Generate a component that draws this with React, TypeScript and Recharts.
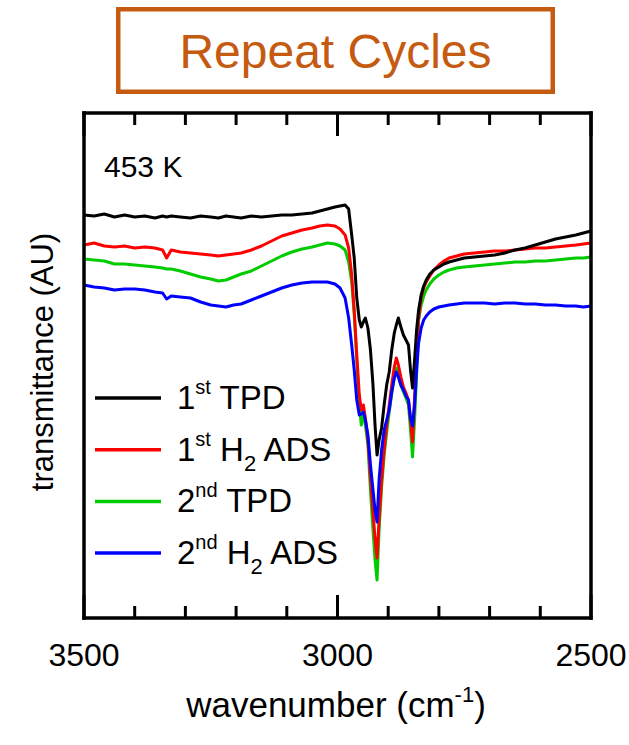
import React from "react";
import { LineChart, Line, XAxis, YAxis, Legend } from "recharts";

// wavenumber grid (cm-1), denser through the C-H stretch region
const wavenumbers = [
  3500, 3480, 3460, 3440, 3420, 3400, 3380, 3360, 3345, 3337,
  3328, 3310, 3290, 3270, 3250, 3235, 3220, 3205, 3190, 3170,
  3150, 3130, 3110, 3090, 3070, 3050, 3035, 3020, 3005, 2995,
  2985, 2978, 2972, 2967, 2962, 2957, 2953, 2949, 2945, 2940,
  2935, 2930, 2926, 2922, 2918, 2913, 2908, 2903, 2898, 2893,
  2888, 2884, 2880, 2875, 2870, 2865, 2860, 2856, 2852, 2848,
  2844, 2840, 2835, 2830, 2825, 2818, 2810, 2800, 2790, 2780,
  2765, 2750, 2730, 2710, 2690, 2670, 2650, 2630, 2610, 2590,
  2570, 2550, 2530, 2515, 2500,
];

// transmittance (AU), offset spectra
const firstTpd = [
  4.03, 4.02, 4.04, 4.01, 4.03, 4.01, 4.02, 4.0, 4.02, 4.01,
  4.02, 4.01, 4.0, 4.02, 4.01, 4.0, 4.02, 4.01, 4.0, 4.02,
  4.01, 4.02, 4.03, 4.03, 4.04, 4.05, 4.07, 4.09, 4.11, 4.12,
  4.13, 4.09, 3.83, 3.6, 3.2, 2.98, 2.91, 2.96, 3.0, 2.9,
  2.68, 2.33, 1.93, 1.63, 1.78, 1.9, 2.13, 2.33, 2.46, 2.68,
  2.85, 2.93, 3.0, 2.91, 2.83, 2.78, 2.73, 2.48, 2.3, 2.58,
  2.88, 3.08, 3.23, 3.32, 3.38, 3.44, 3.48, 3.51, 3.54, 3.56,
  3.58, 3.6, 3.61, 3.62, 3.63, 3.65, 3.68, 3.7, 3.73, 3.76,
  3.79, 3.81, 3.83, 3.85, 3.87,
];

const firstH2Ads = [
  3.73, 3.75, 3.72, 3.71, 3.72, 3.7, 3.71, 3.7, 3.68, 3.6,
  3.68, 3.66, 3.65, 3.64, 3.63, 3.62, 3.63, 3.64, 3.65, 3.68,
  3.72, 3.77, 3.82, 3.85, 3.88, 3.9, 3.92, 3.93, 3.92, 3.89,
  3.83, 3.7, 3.43, 3.08, 2.63, 2.23, 2.08, 2.13, 2.0, 1.78,
  1.4, 1.06, 0.8, 0.6, 0.98, 1.38, 1.68, 1.93, 2.13, 2.33,
  2.51, 2.6, 2.53, 2.41, 2.31, 2.25, 2.18, 1.98, 1.76, 2.2,
  2.7, 3.0, 3.21, 3.3, 3.36, 3.42, 3.48, 3.53, 3.57, 3.6,
  3.62, 3.64, 3.65, 3.66, 3.67, 3.67, 3.68, 3.69, 3.7, 3.7,
  3.71, 3.72, 3.73, 3.74, 3.75,
];

const secondTpd = [
  3.59, 3.58, 3.57, 3.54, 3.54, 3.53, 3.52, 3.51, 3.5, 3.49,
  3.49, 3.47, 3.44, 3.41, 3.39, 3.37, 3.38, 3.41, 3.44, 3.47,
  3.52, 3.57, 3.62, 3.66, 3.69, 3.71, 3.73, 3.75, 3.74, 3.72,
  3.68, 3.56, 3.36, 3.03, 2.58, 2.13, 1.93, 2.05, 1.93, 1.73,
  1.28, 0.88, 0.58, 0.38, 0.88, 1.31, 1.63, 1.86, 2.06, 2.25,
  2.41, 2.5, 2.43, 2.33, 2.26, 2.2, 2.13, 1.88, 1.61, 1.98,
  2.43, 2.98, 3.13, 3.22, 3.28, 3.34, 3.39, 3.43, 3.46, 3.48,
  3.5, 3.51, 3.52, 3.53, 3.54, 3.55, 3.56, 3.56, 3.57, 3.57,
  3.58, 3.59, 3.6, 3.6, 3.61,
];

const secondH2Ads = [
  3.33, 3.31, 3.3, 3.28, 3.29, 3.29, 3.28, 3.26, 3.25, 3.19,
  3.22, 3.21, 3.2, 3.16, 3.13, 3.12, 3.11, 3.13, 3.14, 3.18,
  3.22, 3.26, 3.3, 3.33, 3.35, 3.36, 3.36, 3.36, 3.34, 3.3,
  3.2, 3.0, 2.73, 2.48, 2.18, 2.03, 2.04, 2.06, 1.98, 1.83,
  1.53, 1.28, 1.08, 0.96, 1.38, 1.68, 1.88, 1.98, 2.08, 2.26,
  2.4, 2.46, 2.41, 2.33, 2.28, 2.22, 2.18, 2.0, 1.92, 2.13,
  2.48, 2.75, 2.9, 2.98, 3.02, 3.06, 3.09, 3.11, 3.12, 3.13,
  3.14, 3.15, 3.15, 3.15, 3.14, 3.15, 3.15, 3.14, 3.14, 3.13,
  3.13, 3.12, 3.12, 3.11, 3.12,
];

const xTicks = [3500, 3400, 3300, 3200, 3100, 3000, 2900, 2800, 2700, 2600, 2500];
const xTickLabels = [3500, 3000, 2500];

const seriesKeys = ["tpd1", "ads1", "tpd2", "ads2"];
const seriesColors = ["#000000", "#ff0000", "#00cc00", "#0000ff"];
const legendOrdinals = ["1", "1", "2", "2"];
const legendSuffixes = ["st", "st", "nd", "nd"];
const legendNames = ["TPD", "H2 ADS", "TPD", "H2 ADS"];

const data = wavenumbers.map((wn, i) => ({
  wn,
  tpd1: firstTpd[i],
  ads1: firstH2Ads[i],
  tpd2: secondTpd[i],
  ads2: secondH2Ads[i],
}));

const FONT = "'Liberation Sans', Arial, sans-serif";
const ORANGE = "#c55a11";

function BottomTick({ x, y, payload }: any) {
  const major = xTickLabels.includes(payload.value);
  return (
    <g>
      <line x1={x} x2={x} y1={y} y2={y - (major ? 23 : 12)} stroke="#000" strokeWidth={3} />
      {major && (
        <text x={x} y={y + 48} textAnchor="middle" fontSize={32} fontFamily={FONT} fill="#000">
          {payload.value}
        </text>
      )}
    </g>
  );
}

function TopTick({ x, y, payload }: any) {
  const major = xTickLabels.includes(payload.value);
  return <line x1={x} x2={x} y1={y} y2={y + (major ? 23 : 12)} stroke="#000" strokeWidth={3} />;
}

function SpectraLegend({ payload }: any) {
  const rowGap = 51.7;
  const rows = seriesKeys
    .map((key) => (payload || []).find((p: any) => p.dataKey === key))
    .filter(Boolean);
  return (
    <svg width={260} height={200} style={{ display: "block", overflow: "visible" }}>
      {rows.map((entry: any, i: number) => {
        const idx = seriesKeys.indexOf(entry.dataKey);
        const lineY = 18 + i * rowGap;
        const base = lineY + 11;
        const hasH2 = legendNames[idx].startsWith("H2");
        return (
          <g key={entry.dataKey}>
            <line x1={0} x2={66} y1={lineY} y2={lineY} stroke={entry.color} strokeWidth={3.5} />
            <text x={82} y={base} fontSize={33} fontFamily={FONT} fill="#000" style={{ whiteSpace: "pre" }}>
              {legendOrdinals[idx]}
              <tspan fontSize={20} dy={-15}>{legendSuffixes[idx]}</tspan>
              {hasH2 ? (
                <>
                  <tspan fontSize={33} dy={15}>{" H"}</tspan>
                  <tspan fontSize={22} dy={10}>2</tspan>
                  <tspan fontSize={33} dy={-10}>{" ADS"}</tspan>
                </>
              ) : (
                <tspan fontSize={33} dy={15}>{" TPD"}</tspan>
              )}
            </text>
          </g>
        );
      })}
    </svg>
  );
}

export default function App() {
  const frame = { stroke: "#000", strokeWidth: 3.5, strokeLinecap: "square" as const };
  const drawOrder = [2, 1, 0, 3];
  return (
    <div
      style={{
        position: "absolute",
        left: 0,
        top: 0,
        width: 629,
        height: 745,
        background: "#fff",
        fontFamily: FONT,
      }}
    >
      <LineChart
        width={629}
        height={745}
        data={data}
        margin={{ top: 112, right: 37, bottom: 126, left: 83 }}
      >
        <XAxis
          dataKey="wn"
          type="number"
          domain={[2500, 3500]}
          reversed
          ticks={xTicks}
          interval={0}
          height={1}
          tickSize={0}
          tickMargin={0}
          tickLine={false}
          axisLine={frame}
          tick={<BottomTick />}
        />
        <XAxis
          xAxisId="top"
          orientation="top"
          dataKey="wn"
          type="number"
          domain={[2500, 3500]}
          reversed
          ticks={xTicks}
          interval={0}
          height={1}
          tickSize={0}
          tickMargin={0}
          tickLine={false}
          axisLine={frame}
          tick={<TopTick />}
        />
        <YAxis type="number" domain={[0, 5.05]} width={1} tick={false} tickLine={false} axisLine={frame} />
        <YAxis
          yAxisId="right"
          orientation="right"
          type="number"
          domain={[0, 5.05]}
          width={1}
          tick={false}
          tickLine={false}
          axisLine={frame}
        />
        <Legend
          layout="vertical"
          align="center"
          verticalAlign="middle"
          content={<SpectraLegend />}
          wrapperStyle={{ position: "absolute", left: 95, top: 380, width: 260, height: 200 }}
        />
        {drawOrder.map((i) => (
          <Line
            key={seriesKeys[i]}
            type="linear"
            dataKey={seriesKeys[i]}
            stroke={seriesColors[i]}
            strokeWidth={3}
            strokeLinejoin="round"
            dot={false}
            activeDot={false}
            isAnimationActive={false}
          />
        ))}
      </LineChart>

      <svg
        width={629}
        height={745}
        style={{ position: "absolute", left: 0, top: 0, pointerEvents: "none" }}
      >
        <rect x={118.25} y={9.25} width={434.5} height={82.5} fill="none" stroke={ORANGE} strokeWidth={4.5} />
        <text x={335.5} y={68} textAnchor="middle" fontSize={48} fontFamily={FONT} fill={ORANGE}>
          Repeat Cycles
        </text>
        <text x={104} y={177} fontSize={30} fontFamily={FONT} fill="#000">
          453 K
        </text>
        <text
          transform="translate(53,362) rotate(-90)"
          textAnchor="middle"
          fontSize={31}
          fontFamily={FONT}
          fill="#000"
        >
          transmittance (AU)
        </text>
        <text x={336} y={717} textAnchor="middle" fontSize={35} fontFamily={FONT} fill="#000">
          wavenumber (cm
          <tspan fontSize={22} dy={-15}>-1</tspan>
          <tspan dy={15}>)</tspan>
        </text>
      </svg>
    </div>
  );
}
